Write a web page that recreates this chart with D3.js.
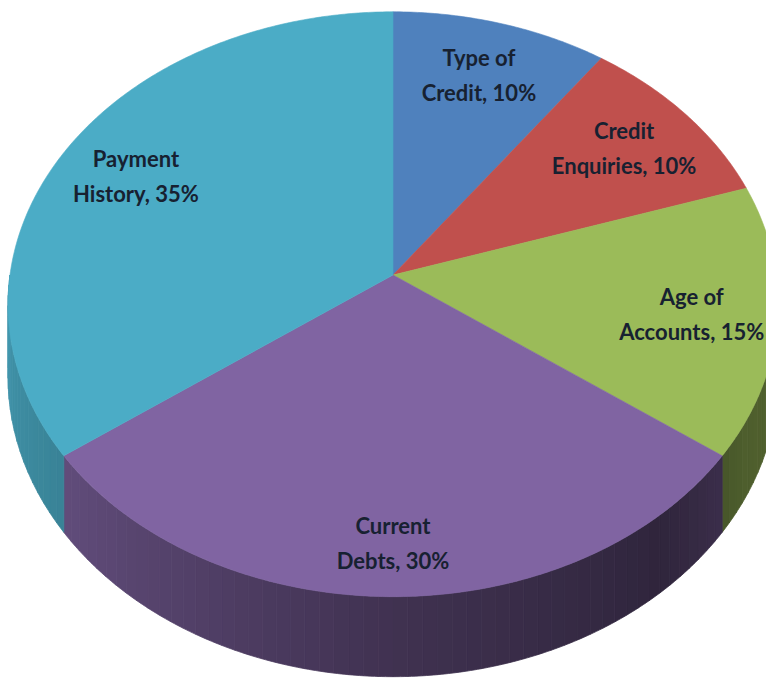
<!DOCTYPE html>
<html>
<head>
<meta charset="utf-8">
<script src="https://cdn.jsdelivr.net/npm/d3@7"></script>
<style>
  body { margin: 0; background: #fff; }
  svg { display: block; }
  .lbl { font-family: Lato, "Open Sans", sans-serif; font-weight: bold; font-size: 22px; fill: #172131; }
</style>
</head>
<body>
<div id="chart"></div>
<script>
// slices, clockwise from 12 o'clock
const categories = ["Type of Credit", "Credit Enquiries", "Age of Accounts", "Current Debts", "Payment History"];
const shares = [10, 10, 15, 30, 35];
const labelLines = [
    ["Type of", "Credit, 10%"],
    ["Credit", "Enquiries, 10%"],
    ["Age of", "Accounts, 15%"],
    ["Current", "Debts, 30%"],
    ["Payment", "History, 35%"]
];
const topColors = ["#4f81bd", "#c0504d", "#9bbb59", "#8064a2", "#4bacc6"];

const WIDTH = 766, HEIGHT = 678;
const CX = 393, CY = 275;      // where the slices meet
const RX = 383, RY = 289.5;    // projected radii
const PERSP = 0.1;             // far side drawn smaller than near side
const DEPTH = 72;              // thickness of the disc
const LABEL_R = 0.78;

/**
 * Projects a point of the disc (angle clockwise from top, radius fraction, drop below top face)
 */
function project(theta, r, drop) {
    let w = 1 + PERSP * r * Math.cos(theta);
    return [
        CX + RX * r * Math.sin(theta) / w,
        CY - RY * r * Math.cos(theta) / w + drop / w
    ];
}

function arcPoints(a0, a1, r, drop) {
    let n = Math.max(2, Math.ceil((a1 - a0) / 0.01));
    return d3.range(n + 1).map(i => project(a0 + (a1 - a0) * i / n, r, drop));
}

const svg = d3.select("#chart").append("svg")
    .attr("width", WIDTH)
    .attr("height", HEIGHT);

const pie = d3.pie().sort(null).value(d => d)
    .startAngle(0).endAngle(2 * Math.PI);
const arcs = pie(shares);

const line = d3.line();

// side shading: lighter on the left, darker toward the right
const sideShade = d3.scaleLinear()
    .domain([90, 120, 140, 180, 234, 270])
    .range([0.54, 0.5, 0.37, 0.5, 0.76, 0.88])
    .clamp(true);

const toRad = d => d * Math.PI / 180;
const sideGroup = svg.append("g");
const STEP = toRad(2);

arcs.forEach((a, i) => {
    let s = Math.max(a.startAngle, toRad(90));
    let e = Math.min(a.endAngle, toRad(270));
    if (e <= s) return;
    for (let t = s; t < e; t += STEP) {
        let t1 = Math.min(t + STEP, e);
        let top = arcPoints(t, t1, 1, 0);
        let bottom = arcPoints(t, t1, 1, DEPTH).reverse();
        let mid = (t + t1) / 2 * 180 / Math.PI;
        let c = d3.rgb(topColors[i]);
        let f = sideShade(mid);
        let col = d3.rgb(c.r * f, c.g * f, c.b * f).formatHex();
        sideGroup.append("path")
            .attr("d", line(top.concat(bottom)) + "Z")
            .attr("fill", col)
            .attr("stroke", col)
            .attr("stroke-width", 0.8);
    }
});

// top faces
svg.append("g").selectAll("path")
    .data(arcs)
    .join("path")
    .attr("d", d => line([[CX, CY]].concat(arcPoints(d.startAngle, d.endAngle, 1, 0))) + "Z")
    .attr("fill", (d, i) => topColors[i])
    .attr("stroke", (d, i) => topColors[i])
    .attr("stroke-width", 0.6);

// labels sit a bit lower on the front slices, like Excel puts them
const labels = svg.append("g").selectAll("text")
    .data(arcs)
    .join("text")
    .attr("class", "lbl")
    .attr("text-anchor", "middle")
    .attr("transform", d => {
        let mid = (d.startAngle + d.endAngle) / 2;
        let p = project(mid, LABEL_R, DEPTH * 0.3 * Math.max(0, -Math.cos(mid)));
        let x = Math.min(p[0], WIDTH - 74);
        return "translate(" + x + "," + p[1] + ")";
    });

labels.selectAll("tspan")
    .data((d, i) => labelLines[i])
    .join("tspan")
    .attr("x", 0)
    .attr("y", (d, j) => j === 0 ? -9 : 26)
    .text(d => d);
</script>
</body>
</html>
